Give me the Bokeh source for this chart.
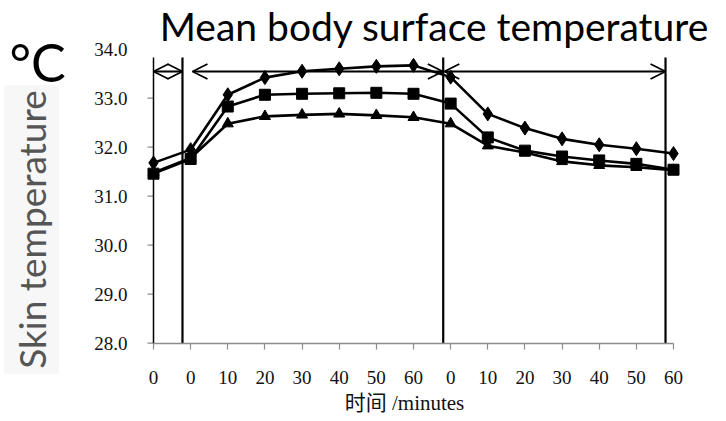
import math
from bokeh.plotting import figure
from bokeh.models import (Range1d, FixedTicker, Label, Arrow, OpenHead)
from bokeh.embed import file_html
from bokeh.resources import INLINE

# Skin temperature readings across three phases (before / during / after)
time_labels = ["0", "0", "10", "20", "30", "40", "50", "60",
               "0", "10", "20", "30", "40", "50", "60"]
upper_series = [31.68, 31.95, 33.07, 33.42, 33.55, 33.60, 33.65, 33.67,
                33.43, 32.68, 32.39, 32.17, 32.05, 31.97, 31.87]
middle_series = [31.46, 31.76, 32.83, 33.07, 33.09, 33.10, 33.11, 33.09,
                 32.89, 32.20, 31.93, 31.81, 31.73, 31.66, 31.54]
lower_series = [31.48, 31.78, 32.48, 32.63, 32.66, 32.68, 32.65, 32.61,
                32.48, 32.03, 31.89, 31.71, 31.63, 31.59, 31.53]
y_ticks = [28, 29, 30, 31, 32, 33, 34]
y_min, y_max = 28, 34

xs = list(range(len(time_labels)))

W, H = 726, 421
# pixel placement of the plotting area inside the canvas
AX_LEFT, AX_RIGHT = 153.0, 673.0
AX_TOP, AX_BOTTOM = 48.7, 342.7

x_scale = (AX_RIGHT - AX_LEFT) / (len(xs) - 1)
y_scale = (AX_BOTTOM - AX_TOP) / (y_max - y_min)
x_range = Range1d(-AX_LEFT / x_scale, (len(xs) - 1) + (W - AX_RIGHT) / x_scale)
y_range = Range1d(y_min - (H - AX_BOTTOM) / y_scale, y_max + AX_TOP / y_scale)

p = figure(width=W, height=H, output_backend="svg", toolbar_location=None,
           x_range=x_range, y_range=y_range, min_border=0)
p.outline_line_color = None
p.xgrid.visible = False
p.ygrid.visible = False
p.background_fill_color = "white"
p.border_fill_color = "white"

tick_font = "Liberation Serif"
tick_color = "#111111"

# x axis: one tick per reading, labelled with minutes within each phase
xa = p.xaxis[0]
xa.fixed_location = y_min
xa.bounds = (0, len(xs) - 1)
xa.ticker = FixedTicker(ticks=xs)
xa.major_label_overrides = {i: t for i, t in enumerate(time_labels)}
xa.minor_tick_line_color = None
xa.axis_line_color = "#8c8c8c"
xa.axis_line_width = 1.5
xa.major_tick_line_color = "#8c8c8c"
xa.major_tick_line_width = 1.2
xa.major_tick_in = 0
xa.major_tick_out = 6
xa.major_label_standoff = 22
xa.major_label_text_font = tick_font
xa.major_label_text_font_size = "19px"
xa.major_label_text_color = tick_color

ya = p.yaxis[0]
ya.fixed_location = 0
ya.bounds = (y_min, y_max)
ya.ticker = FixedTicker(ticks=y_ticks)
ya.major_label_overrides = {v: f"{v:.1f}" for v in y_ticks}
ya.minor_tick_line_color = None
ya.axis_line_color = None
ya.major_tick_line_color = None
ya.major_tick_in = 0
ya.major_tick_out = 6
ya.major_label_standoff = 20
ya.major_label_text_font = tick_font
ya.major_label_text_font_size = "19px"
ya.major_label_text_color = tick_color

# y tick marks (the top value carries no mark)
tick_len = 6 / x_scale
p.segment(x0=[-tick_len] * 6, y0=y_ticks[:-1], x1=[0] * 6, y1=y_ticks[:-1],
          line_color="#8c8c8c", line_width=1.2)

# y axis line and phase boundaries
bound_top = 33.83
p.segment(x0=[0], y0=[y_min], x1=[0], y1=[bound_top], line_color="black", line_width=1.5)
bounds_x = [0.78, 7.80, 13.785]
p.segment(x0=bounds_x, y0=[y_min] * 3, x1=bounds_x, y1=[bound_top] * 3,
          line_color="black", line_width=2.2)

# phase span arrows
arrow_y = 33.545
for xa0, xa1 in [(0.0, 0.78), (1.05, 7.79), (7.83, 13.785)]:
    p.add_layout(Arrow(start=OpenHead(size=15, line_width=1.8, line_color="black"),
                       end=OpenHead(size=15, line_width=1.8, line_color="black"),
                       x_start=xa0, y_start=arrow_y, x_end=xa1, y_end=arrow_y,
                       line_width=1.8, line_color="black"))

# the three series
for vals, marker, size in [(lower_series, "triangle", 11),
                           (middle_series, "square", 11),
                           (upper_series, "diamond", 14)]:
    p.line(xs, vals, line_color="black", line_width=2.6)
    p.scatter(xs, vals, marker=marker, size=size, fill_color="black",
              line_color="black")

# surrounding texts, placed in canvas pixels (screen y counts from the bottom)
text_font = "Lato"
p.add_layout(Label(x=31, y=H - 229, x_units="screen", y_units="screen",
                   text="Skin temperature", angle=math.pi / 2, text_align="center",
                   text_baseline="middle", text_font=text_font,
                   text_font_size="37px", text_color="#555555",
                   background_fill_color="#f7f7f7", padding=5))
p.add_layout(Label(x=434, y=H - 25, x_units="screen", y_units="screen",
                   text="Mean body surface temperature", text_align="center",
                   text_baseline="alphabetic", text_font=text_font,
                   text_font_size="39px", text_color="black"))
p.add_layout(Label(x=9, y=H - 61, x_units="screen", y_units="screen",
                   text="°C", text_align="left", text_baseline="alphabetic",
                   text_font=text_font, text_font_size="52px", text_color="black"))
p.add_layout(Label(x=404, y=H - 402, x_units="screen", y_units="screen",
                   text="时间 /minutes", text_align="center", text_baseline="middle",
                   text_font="Liberation Serif, Noto Sans CJK SC",
                   text_font_size="21px", text_color=tick_color))

open("out.html", "w").write(file_html(p, INLINE))
